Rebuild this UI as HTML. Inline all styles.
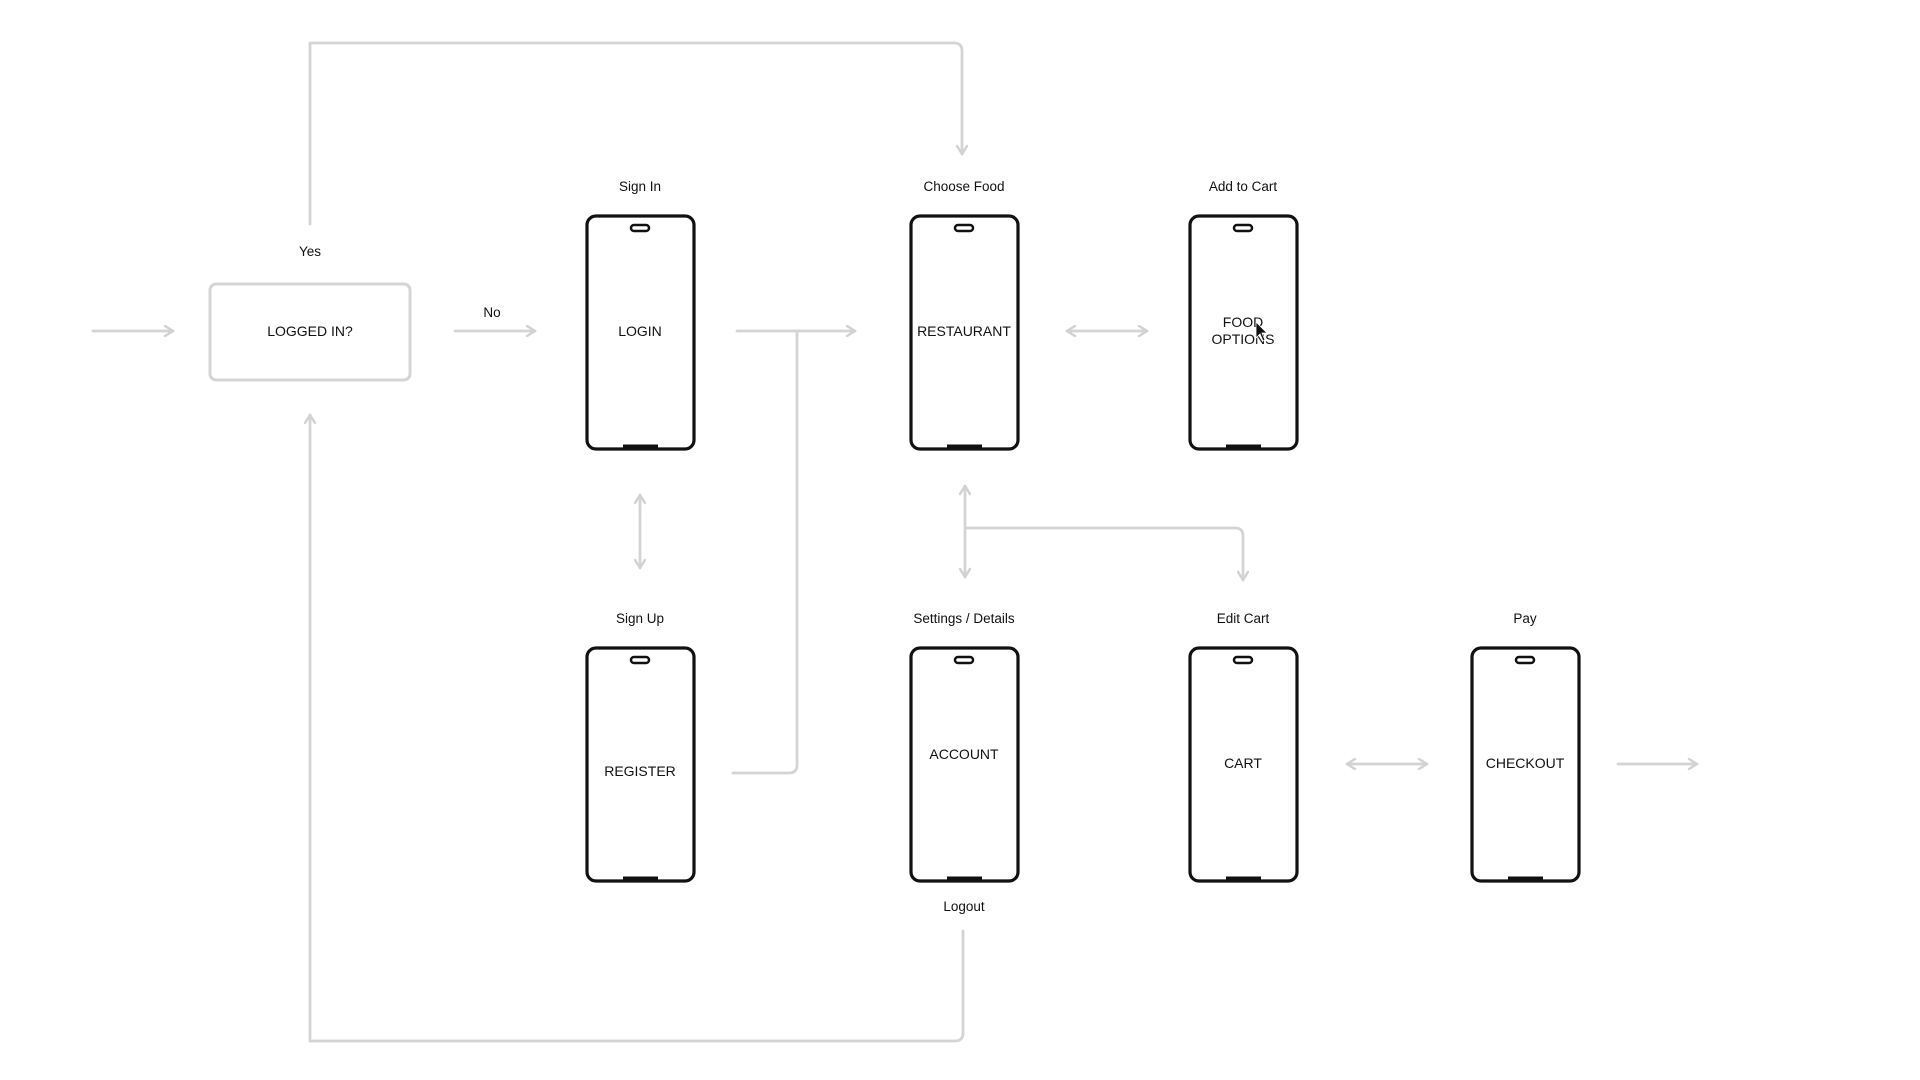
<!DOCTYPE html>
<html><head><meta charset="utf-8"><style>
html,body{margin:0;padding:0;background:#fff;width:1920px;height:1080px;overflow:hidden}
svg text{font-family:"Liberation Sans",sans-serif;fill:#111;text-anchor:middle}
</style></head><body>
<svg width="1920" height="1080" viewBox="0 0 1920 1080" xmlns="http://www.w3.org/2000/svg">
<defs>
<marker id="a" viewBox="0 0 12 12" refX="10" refY="6" markerWidth="12" markerHeight="12" markerUnits="userSpaceOnUse" orient="auto-start-reverse">
<path d="M2,1 L10,6 L2,11" fill="none" stroke="#d2d2d2" stroke-width="2.5" stroke-linecap="round" stroke-linejoin="round"/>
</marker>
<g id="ph">
<rect x="0" y="0" width="107" height="233" rx="9" fill="#fff" stroke="#111" stroke-width="3.2"/>
<rect x="44" y="9" width="18" height="6" rx="3" fill="none" stroke="#111" stroke-width="2.5"/>
<line x1="36" y1="230" x2="71" y2="230" stroke="#111" stroke-width="3"/>
</g>
</defs>
<g fill="none" stroke="#d4d4d4" stroke-width="2.8" stroke-linecap="round" stroke-linejoin="round">
<line x1="93" y1="331" x2="173" y2="331" marker-end="url(#a)"/>
<line x1="455" y1="331" x2="535" y2="331" marker-end="url(#a)"/>
<path d="M310,224 V43 H954 Q962,43 962,51 V154" marker-end="url(#a)"/>
<line x1="737" y1="331" x2="855" y2="331" marker-end="url(#a)"/>
<path d="M797,331 V765 Q797,773 789,773 H733"/>
<line x1="1067" y1="331" x2="1147" y2="331" marker-start="url(#a)" marker-end="url(#a)"/>
<line x1="640" y1="495" x2="640" y2="568" marker-start="url(#a)" marker-end="url(#a)"/>
<line x1="965" y1="486" x2="965" y2="577" marker-start="url(#a)" marker-end="url(#a)"/>
<path d="M965,528 H1235 Q1243,528 1243,536 V580" marker-end="url(#a)"/>
<line x1="1347" y1="764" x2="1427" y2="764" marker-start="url(#a)" marker-end="url(#a)"/>
<line x1="1618" y1="764" x2="1697" y2="764" marker-end="url(#a)"/>
<path d="M963,931 V1033 Q963,1041 955,1041 H310 V415" marker-end="url(#a)"/>
<rect x="210" y="284" width="200" height="96" rx="6" stroke-width="3"/>
</g>
<use href="#ph" x="587" y="216"/>
<use href="#ph" x="911" y="216"/>
<use href="#ph" x="1190" y="216"/>
<use href="#ph" x="587" y="648"/>
<use href="#ph" x="911" y="648"/>
<use href="#ph" x="1190" y="648"/>
<use href="#ph" x="1472" y="648"/>
<g font-size="13.5">
<text x="310" y="256">Yes</text>
<text x="492" y="317">No</text>
<text x="640" y="191">Sign In</text>
<text x="964" y="191">Choose Food</text>
<text x="1243" y="191">Add to Cart</text>
<text x="640" y="623">Sign Up</text>
<text x="964" y="623">Settings / Details</text>
<text x="1243" y="623">Edit Cart</text>
<text x="1525" y="623">Pay</text>
<text x="964" y="911">Logout</text>
</g>
<g font-size="14">
<text x="310" y="336">LOGGED IN?</text>
<text x="640" y="336">LOGIN</text>
<text x="964" y="336">RESTAURANT</text>
<text x="1243" y="327">FOOD</text>
<text x="1243" y="344">OPTIONS</text>
<text x="640" y="776">REGISTER</text>
<text x="964" y="759">ACCOUNT</text>
<text x="1243" y="768">CART</text>
<text x="1525" y="768">CHECKOUT</text>
</g>
<path d="M1256,322 L1256,338 L1260,334 L1263,341 L1265,340 L1262,333 L1267,333 Z" fill="#111" stroke="#fff" stroke-width="0.8"/>
</svg>
</body></html>
